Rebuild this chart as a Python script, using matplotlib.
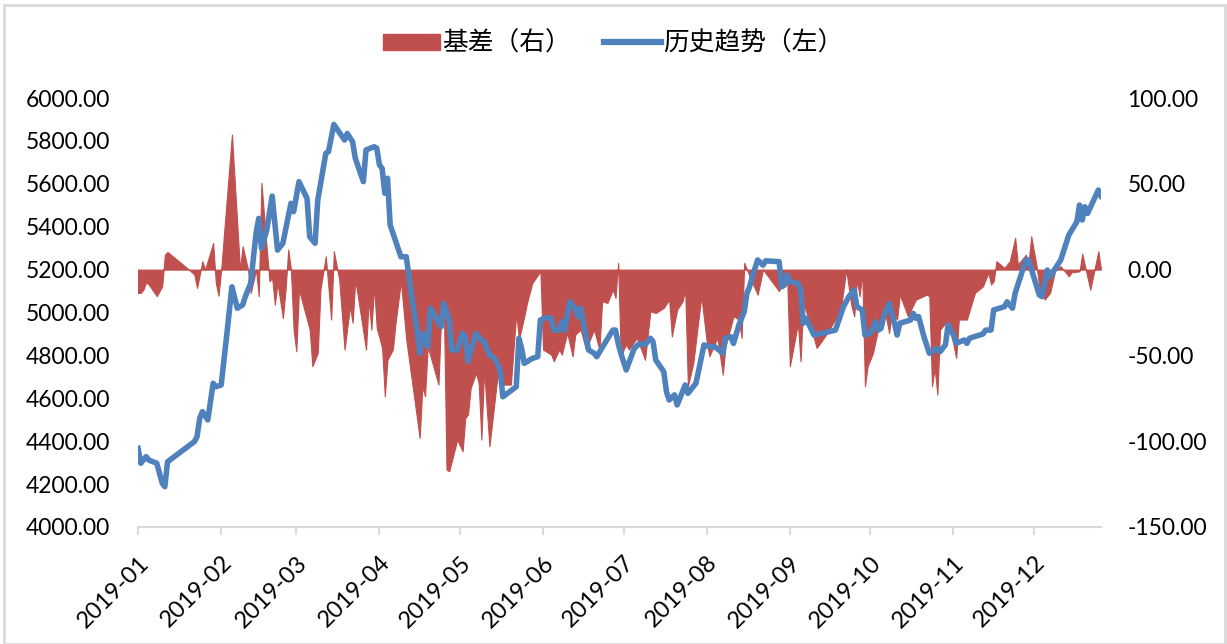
#! /usr/bin/env python3
import numpy as np
import matplotlib
matplotlib.use("Agg")
import matplotlib.pyplot as plt
import matplotlib.dates as mdates
from matplotlib.patches import Patch, Rectangle
from matplotlib.lines import Line2D
from matplotlib.ticker import FormatStrFormatter

# days counted from 2019-01-01
trend_day = [0, 1, 3, 4, 7, 9, 10, 11, 21, 22, 23, 24, 26, 28, 29, 31, 33, 35, 37, 39,
             40, 42, 44, 45, 46, 48, 50, 52, 54, 57, 58, 60, 63, 64, 66, 67, 70, 71, 73, 77,
             78, 80, 81, 84, 85, 88, 89, 90, 91, 92, 93, 94, 98, 100, 102, 104, 105, 106, 108, 109,
             113, 114, 116, 117, 119, 121, 122, 123, 126, 128, 129, 131, 133, 135, 136, 141, 142, 143, 144, 147,
             149, 150, 152, 154, 155, 157, 158, 159, 161, 163, 164, 165, 168, 170, 171, 174, 177, 178, 179, 180,
             182, 185, 187, 189, 191, 192, 193, 196, 197, 198, 200, 201, 204, 205, 208, 211, 213, 215, 218, 219,
             221, 222, 224, 226, 227, 228, 229, 231, 233, 234, 239, 240, 241, 242, 243, 246, 247, 248, 249, 252,
             255, 260, 263, 265, 267, 268, 270, 271, 273, 275, 276, 277, 278, 280, 282, 283, 284, 288, 289, 290,
             291, 293, 295, 298, 299, 301, 302, 304, 305, 308, 309, 310, 315, 316, 318, 319, 323, 324, 326, 327,
             329, 331, 332, 336, 337, 339, 340, 344, 347, 350, 351, 352, 353, 354, 358, 359]
trend_value = [4367, 4297, 4328, 4312, 4297, 4204, 4188, 4304, 4398, 4421, 4507, 4538, 4499, 4670, 4654, 4662, 4887, 5120, 5020, 5035,
               5074, 5136, 5369, 5439, 5299, 5385, 5543, 5291, 5323, 5509, 5470, 5610, 5532, 5353, 5323, 5524, 5742, 5750, 5877, 5804,
               5835, 5796, 5719, 5610, 5758, 5773, 5766, 5688, 5672, 5556, 5626, 5408, 5260, 5260, 5074, 4918, 4810, 4903, 4841, 5020,
               4934, 5043, 4965, 4825, 4825, 4903, 4887, 4771, 4903, 4872, 4864, 4802, 4786, 4732, 4607, 4654, 4880, 4833, 4763, 4786,
               4794, 4965, 4976, 4973, 4918, 4918, 4957, 4918, 5050, 5020, 4981, 5020, 4825, 4810, 4794, 4856, 4918, 4918, 4856, 4810,
               4732, 4833, 4856, 4849, 4880, 4864, 4779, 4724, 4631, 4592, 4616, 4569, 4662, 4623, 4670, 4849, 4841, 4841, 4810, 4880,
               4887, 4856, 4942, 5004, 5090, 5120, 5167, 5245, 5221, 5241, 5237, 5120, 5128, 5175, 5144, 5136, 5105, 4950, 4973, 4895,
               4903, 4918, 5027, 5074, 5105, 5027, 5012, 4895, 4903, 4957, 4918, 4926, 4981, 5043, 4950, 4895, 4950, 4965, 4996, 4973,
               4981, 4887, 4810, 4833, 4817, 4849, 4942, 4895, 4856, 4872, 4856, 4880, 4900, 4918, 4918, 5012, 5027, 5050, 5020, 5090,
               5167, 5245, 5245, 5082, 5074, 5198, 5167, 5245, 5361, 5423, 5501, 5431, 5493, 5462, 5571, 5543]

basis_day = [0, 1, 2, 3, 4, 7, 9, 10, 11, 19, 21, 22, 24, 25, 28, 29, 30, 31, 35, 38,
             39, 41, 42, 44, 45, 46, 48, 49, 50, 51, 52, 54, 55, 56, 57, 58, 59, 60, 64, 65,
             67, 68, 70, 72, 73, 75, 77, 79, 80, 81, 85, 86, 87, 88, 89, 90, 91, 92, 93, 95,
             96, 98, 100, 105, 106, 107, 108, 112, 113, 114, 115, 116, 119, 121, 122, 123, 124, 126, 127, 128,
             129, 131, 134, 136, 139, 141, 142, 144, 145, 147, 150, 151, 154, 155, 157, 158, 160, 162, 163, 165,
             167, 170, 172, 173, 175, 177, 178, 179, 180, 181, 182, 183, 186, 189, 191, 193, 196, 198, 199, 201,
             203, 204, 205, 207, 210, 212, 213, 216, 218, 219, 222, 224, 225, 226, 228, 231, 233, 239, 240, 242,
             243, 245, 246, 247, 248, 250, 253, 257, 262, 264, 266, 267, 268, 269, 270, 271, 272, 274, 276, 278,
             280, 281, 283, 284, 287, 290, 294, 295, 296, 297, 298, 299, 301, 303, 305, 306, 309, 312, 315, 317,
             318, 319, 320, 323, 325, 327, 328, 331, 332, 333, 335, 336, 338, 339, 340, 342, 344, 347, 348, 351,
             352, 355, 358, 359]
basis_value = [-13.6, -13.6, -11.7, -7.4, -8.7, -15.5, -9.7, 8.7, 10.3, 0, -2.9, -10.7, 4.9, 0, 15.5, -7.8, -15.2, 0, 78.7, 0,
               13.6, 0, -13.6, 0, -15.5, 50.5, 11.7, -6.8, -4.9, -20.4, -7.8, -28.2, -11.7, 11.7, 0, -35, -47.6, -11.7, -35, -56.3,
               -48.6, -11.7, 7.8, -29.1, 10.7, -5.8, -46.6, -21.4, -31, -5.8, -46.6, -17.5, -35, -9.7, -34, -39.8, -45.7, -73.8, -52.5, -46.6,
               -31.1, -6.8, -40.8, -98.1, -68, -73.8, -44.7, -67, -27.2, -19.4, -116.6, -117.5, -99.1, -105.9, -86.5, -84.5, -69, -60.2, -66.1, -99.1,
               -58.3, -103, -62.2, -67, -67, -25.3, -40.8, -27.2, -19.4, -7.8, -1, -46.6, -49.5, -53.4, -46.6, -49.5, -36.9, -50.5, -37.9, -35,
               -46.6, -35, -46.6, -18.5, -19.4, -11.7, -16.5, 3.9, -53.4, -46.6, -43.7, -46.6, -39.8, -52.5, -24.3, -25.3, -22.3, -17.5, -38.9, -23.3,
               -18.5, -11.7, -68, -54.4, -15.5, -41.8, -50.5, -39.8, -61.2, -44.7, -27.2, -29.1, -39.8, 3.9, -3.9, -14.6, 0, -12.6, -7.8, -3.9,
               -56.3, -39.8, -31.1, -53.4, -19.4, -29.1, -45.7, -36.9, -23.3, 0, -21.4, -27.2, -5.8, -15.5, -1.9, -68, -56.3, -48.6, -34, -20.4,
               -36.9, -25.3, -29.1, -14.6, -27.2, -17.5, -14.6, -15.5, -68, -57.3, -72.9, -35, -31.1, -35.9, -51.5, -29.1, -29.1, -13.6, -9.7, -1.9,
               -8.7, -6.8, 4.9, 1, 4.9, 18.5, 2.9, 8.7, 3.9, 19.4, 1.9, -9.7, -17.5, -15.5, -13.6, 0, 1.9, -3.9, -1.6, -1,
               9.3, -11.7, 10.7, 0]

month_ticks = ["2019-%02d-01" % m for m in range(1, 13)]
left_ticks = np.arange(4000, 6001, 200)
right_ticks = np.arange(-150, 101, 50)

red = "#C0504D"
blue = "#4F81BD"
grey = "#D9D9D9"
tick_font = "Lato"


def main():
    start = np.datetime64("2019-01-01")
    trend_x = start + np.array(trend_day).astype("timedelta64[D]")
    basis_x = start + np.array(basis_day).astype("timedelta64[D]")

    fig = plt.figure(figsize=(12.27, 6.44), dpi=100)
    fig.patches.append(Rectangle((0.003, 0.0), 0.995, 0.993, transform=fig.transFigure,
                                 fill=False, edgecolor=grey, linewidth=2))
    ax = fig.add_axes([0.1125, 0.1817, 0.7848, 0.6661])
    ax2 = ax.twinx()

    # area on the right axis goes behind the line on the left axis
    ax.set_zorder(ax2.get_zorder() + 1)
    ax.patch.set_visible(False)
    ax2.set_facecolor("#EEECE1")

    ax2.fill_between(basis_x, 0, basis_value, color=red, linewidth=0.8, edgecolor=red)
    ax.plot(trend_x, trend_value, color=blue, linewidth=4.0, solid_joinstyle="round")

    ax.set_ylim(4000, 6000)
    ax2.set_ylim(-150, 100)
    ax.set_yticks(left_ticks)
    ax2.set_yticks(right_ticks)
    ax.yaxis.set_major_formatter(FormatStrFormatter("%.2f"))
    ax2.yaxis.set_major_formatter(FormatStrFormatter("%.2f"))
    ax.set_xlim(start, start + np.timedelta64(359, "D"))
    ax.set_xticks(np.array(month_ticks, dtype="datetime64[D]"))
    ax.xaxis.set_major_formatter(mdates.DateFormatter("%Y-%m"))

    for a in (ax, ax2):
        for s in a.spines.values():
            s.set_visible(False)
    ax.spines["bottom"].set_visible(True)
    ax.spines["bottom"].set_color(grey)
    ax.spines["bottom"].set_linewidth(1.5)

    ax.tick_params(axis="y", length=0, pad=20, labelsize=16.5, labelcolor="black")
    ax2.tick_params(axis="y", length=0, pad=19, labelsize=16.5, labelcolor="black")
    ax.tick_params(axis="x", length=6, width=1.5, color=grey, labelsize=17, pad=12)
    for lab in ax.get_xticklabels():
        lab.set_rotation(45)
        lab.set_ha("right")
        lab.set_va("top")
        lab.set_rotation_mode("anchor")
    for lab in ax.get_xticklabels() + ax.get_yticklabels() + ax2.get_yticklabels():
        lab.set_fontfamily(tick_font)

    handles = [Patch(facecolor=red, edgecolor=red),
               Line2D([0], [0], color=blue, linewidth=4.5)]
    fig.legend(handles, ["基差（右）", "历史趋势（左）"], loc="center",
               bbox_to_anchor=(0.5, 0.932), ncol=2, frameon=False,
               prop={"family": ["Noto Sans CJK SC", "DejaVu Sans"], "size": 18.5},
               handlelength=2.2, handleheight=0.6, columnspacing=1.3, handletextpad=0.1)

    fig.savefig("out.png", dpi=100)
    plt.close(fig)


if __name__ == "__main__":
    main()
